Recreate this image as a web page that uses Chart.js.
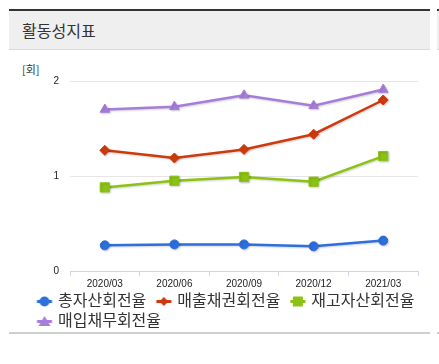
<!DOCTYPE html>
<html><head><meta charset="utf-8">
<script src="https://cdn.jsdelivr.net/npm/chart.js@4.4.1/dist/chart.umd.min.js"></script>
<style>
html,body{margin:0;padding:0;background:#fff;}
body{width:439px;height:364px;position:relative;overflow:hidden;font-family:"Noto Sans CJK KR","Noto Sans",sans-serif;}
.topline{position:absolute;top:9px;height:2px;background:#333;}
.hdr{position:absolute;top:11px;height:38px;background:#efefef;border-bottom:1px solid #dadada;}
.botline{position:absolute;top:332px;height:2px;background:#cfcfcf;}
#title{position:absolute;left:22px;top:11px;height:38px;line-height:38px;font-size:16px;color:#333;}
#unit{position:absolute;left:22px;top:62px;font-size:11px;line-height:14px;color:#333;}
#wrap{position:absolute;left:9px;top:50px;width:421px;height:288px;}
</style>
</head><body>
<div class="topline" style="left:9px;width:421px"></div>
<div class="hdr" style="left:9px;width:421px"></div>
<div class="topline" style="left:437px;width:10px"></div>
<div class="hdr" style="left:437px;width:10px"></div>
<div class="botline" style="left:9px;width:421px"></div>
<div class="botline" style="left:437px;width:10px"></div>
<div id="title">활동성지표</div>
<div id="unit">[회]</div>
<div id="wrap"><canvas id="c" width="421" height="288"></canvas></div>
<script>
const categories = ["2020/03","2020/06","2020/09","2020/12","2021/03"];
const seriesNames = ["총자산회전율","매출채권회전율","재고자산회전율","매입채무회전율"];
const totalAssetTurnover = [0.27, 0.28, 0.28, 0.26, 0.32];
const receivablesTurnover = [1.27, 1.19, 1.28, 1.44, 1.80];
const inventoryTurnover = [0.88, 0.95, 0.99, 0.94, 1.21];
const payablesTurnover = [1.70, 1.73, 1.85, 1.74, 1.91];
const yTicks = [0, 1, 2];

const colors = ["#2c6fdd", "#cf3a0c", "#8cc213", "#a77dda"];
const styles = ["circle", "rectRot", "rect", "triangle"];
const radii = [4.5, 5, 6.5, 5.5];

// legend geometry
const LF = 16;             // legend font size
const LPAD = 4;            // legend padding (row spacing = LF + LPAD)
const SHIFT = 10 - LPAD;   // visible marker start offset inside box
const BOXW = 21 + SHIFT - LF / 2;
const ICON_W = 2 * Math.ceil(SHIFT + 15 - BOXW / 2) + 2, ICON_H = 14;
const ICON_X0 = ICON_W / 2 - BOXW / 2 + SHIFT;

function legendIcon(color, style) {
  const c = document.createElement('canvas');
  c.width = ICON_W; c.height = ICON_H;
  const g = c.getContext('2d');
  const x0 = ICON_X0, x1 = ICON_X0 + 15;
  const cx = (x0 + x1) / 2, cy = 8.5;
  g.strokeStyle = color; g.lineWidth = 3;
  g.beginPath(); g.moveTo(x0, cy); g.lineTo(x1, cy); g.stroke();
  g.fillStyle = color;
  g.beginPath();
  if (style === 'circle') { g.arc(cx, cy, 5, 0, Math.PI * 2); }
  else if (style === 'rectRot') { g.moveTo(cx - 4.5, cy); g.lineTo(cx, cy - 4.5); g.lineTo(cx + 4.5, cy); g.lineTo(cx, cy + 4.5); g.closePath(); }
  else if (style === 'rect') { g.rect(cx - 5, cy - 5, 10, 10); }
  else { g.moveTo(cx, cy - 5.5); g.lineTo(cx + 6, cy + 4.5); g.lineTo(cx - 6, cy + 4.5); g.closePath(); }
  g.fill();
  return c;
}
const icons = colors.map((c, i) => legendIcon(c, styles[i]));

const values = [totalAssetTurnover, receivablesTurnover, inventoryTurnover, payablesTurnover];
const datasets = values.map((v, i) => ({
  label: seriesNames[i],
  data: v,
  yAxisID: 'y',
  borderColor: colors[i],
  backgroundColor: colors[i],
  pointBackgroundColor: colors[i],
  pointBorderColor: colors[i],
  pointBorderWidth: 1,
  pointStyle: styles[i],
  pointRadius: radii[i],
  borderWidth: 2.5,
  tension: 0,
  fill: false
}));

const shadowPlugin = {
  id: 'shadow',
  beforeDatasetDraw(chart) {
    const ctx = chart.ctx;
    ctx.save();
    ctx.shadowColor = 'rgba(0,0,0,0.18)';
    ctx.shadowBlur = 2;
    ctx.shadowOffsetX = 1;
    ctx.shadowOffsetY = 1;
  },
  afterDatasetDraw(chart) { chart.ctx.restore(); }
};

const tickFont = { family: "'Liberation Sans', Arial, sans-serif", size: 10 };

new Chart(document.getElementById('c'), {
  type: 'line',
  data: { labels: categories, datasets },
  plugins: [shadowPlugin],
  options: {
    responsive: false,
    animation: false,
    layout: { padding: { left: 18, right: 0, top: 31, bottom: 0 } },
    plugins: {
      tooltip: { enabled: false },
      legend: {
        position: 'bottom',
        align: 'start',
        labels: {
          usePointStyle: true,
          pointStyleWidth: BOXW,
          padding: LPAD,
          color: '#333',
          font: { family: "'Noto Sans CJK KR', sans-serif", size: LF },
          generateLabels(chart) {
            const items = Chart.defaults.plugins.legend.labels.generateLabels(chart);
            items.forEach(it => { it.pointStyle = icons[it.datasetIndex]; it.fontColor = '#333'; });
            return items;
          }
        }
      }
    },
    scales: {
      x: {
        offset: true,
        grid: { display: true, offset: true, drawOnChartArea: false, drawTicks: true, tickLength: 5, color: '#ccd6eb' },
        border: { display: true, color: '#ccd6eb', width: 1 },
        ticks: { color: '#222', font: tickFont, padding: 2, maxRotation: 0, autoSkip: false },
        afterFit(s) { s.height = 17; }
      },
      y: {
        position: 'left',
        min: 0, max: 2,
        afterBuildTicks(s) { s.ticks = yTicks.map(v => ({ value: v })); },
        grid: { color: '#e6e6e6', drawTicks: false, lineWidth: 1 },
        border: { display: false },
        ticks: { color: '#222', font: tickFont, padding: 11 },
        afterFit(s) { s.width = 43; }
      },
      yRightSpace: {
        position: 'right',
        min: 0, max: 2,
        grid: { display: false, drawTicks: false },
        border: { display: false },
        ticks: { display: false },
        afterFit(s) { s.width = 12; }
      }
    }
  }
});
</script>
</body></html>
